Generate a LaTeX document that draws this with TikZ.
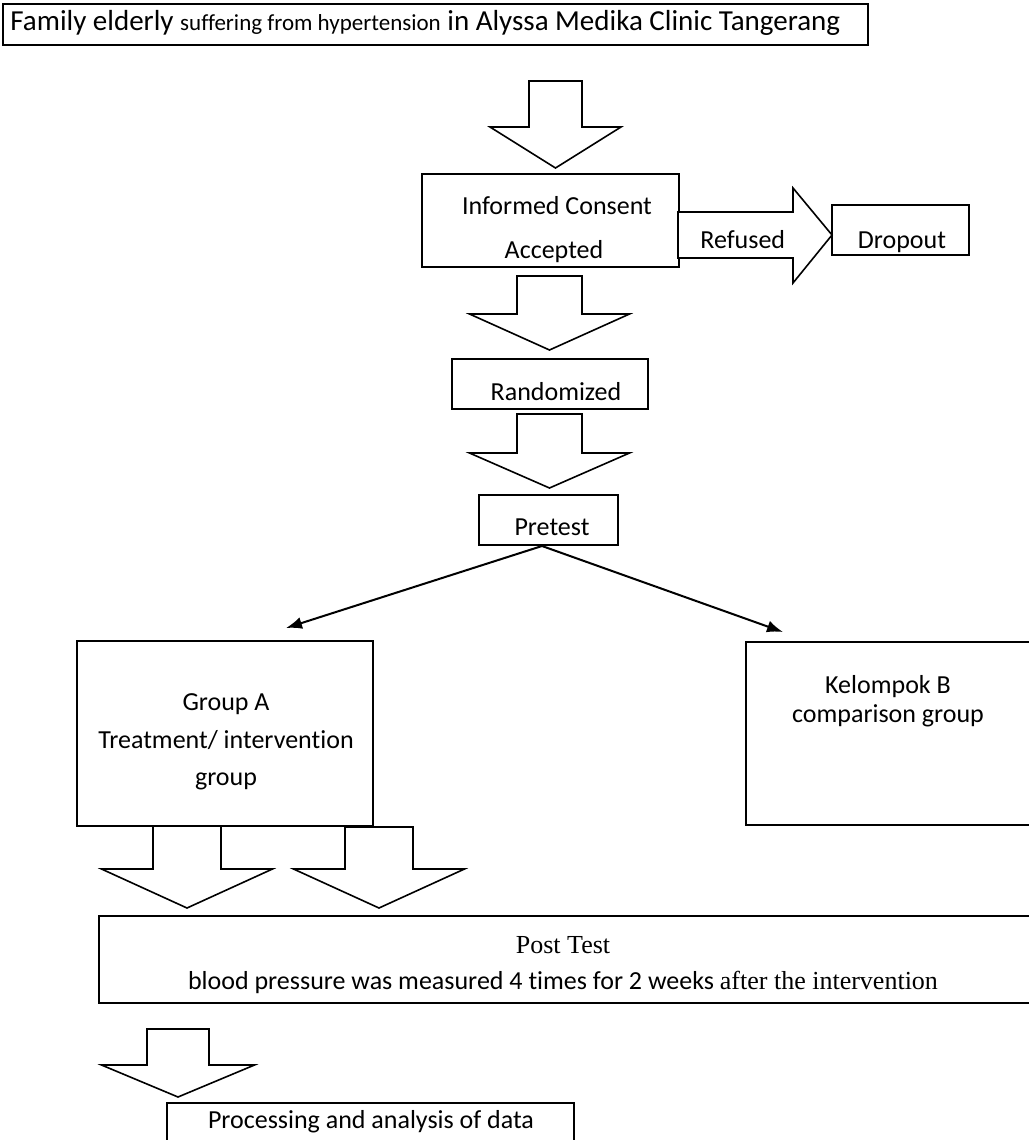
\documentclass[tikz,border=0pt]{standalone}
\usepackage{fontspec}
\setmainfont{Carlito}[Ligatures=CommonOff]
\newfontfamily\timesfont{Liberation Serif}
\usetikzlibrary{arrows.meta}

% hollow block arrow pointing down: x, top, shoulder, tip, half shaft, half head
\newcommand{\blkdown}[6]{%
  \draw[blkarrow] (#1-#5,#2) -- (#1+#5,#2) -- (#1+#5,#3) -- (#1+#6,#3)
    -- (#1,#4) -- (#1-#6,#3) -- (#1-#5,#3) -- cycle;}

\begin{document}
\begin{tikzpicture}[x=0.5pt,y=-0.5pt,
  box/.style={draw,line width=1pt},
  blkarrow/.style={draw,line width=0.8pt,fill=white,line join=miter},
  lbl/.style={inner sep=0pt,font=\fontsize{13}{15}\selectfont}]
  \useasboundingbox (0,0) rectangle (1028,1140);

  % title
  \draw[box] (3,4) rectangle (868,45);
  \node[lbl,anchor=base west,font=\fontsize{14.5}{16}\selectfont] (title) at (10,30) {Family elderly {\fontsize{11.5}{14}\selectfont suffering from hypertension} in Alyssa Medika Clinic Tangerang};
  \blkdown{555.5}{81}{127}{168}{26.5}{65.5}

  % consent
  \draw[box] (422,174) rectangle (679,267);
  \node[lbl,anchor=base] (consent) at (557,214) {Informed Consent};
  \node[lbl,anchor=base] (accepted) at (554,258) {Accepted};
  \draw[blkarrow] (678,212) -- (793,212) -- (793,188) -- (832,235)
    -- (793,283) -- (793,258) -- (678,258) -- cycle;
  \node[lbl,anchor=base west] (refused) at (700,248) {Refused};
  \draw[box] (832,205) rectangle (969,255);
  \node[lbl,anchor=base] (dropout) at (902,248) {Dropout};
  \blkdown{549.5}{276}{314}{350}{32.5}{80}

  % randomized and pretest
  \draw[box] (452,359) rectangle (648,409);
  \node[lbl,anchor=base] (random) at (556,400) {Randomized};
  \blkdown{549.5}{414}{453}{488}{32.5}{80}
  \draw[box] (479,495) rectangle (618,545);
  \node[lbl,anchor=base] (pretest) at (552,535) {Pretest};

  \coordinate (split) at (542,546);
  \coordinate (toA) at (286,628);
  \coordinate (toB) at (783,632);
  \draw[line width=1pt,-{Latex[length=8pt,width=6pt]}] (split) -- (toA);
  \draw[line width=1pt,-{Latex[length=8pt,width=6pt]}] (split) -- (toB);

  % groups
  \draw[box] (77,641) rectangle (373,826);
  \node[lbl,anchor=base] (grpA1) at (226,710) {Group A};
  \node[lbl,anchor=base] (grpA2) at (226,748) {Treatment/ intervention};
  \node[lbl,anchor=base] (grpA3) at (226,785) {group};
  \draw[box] (746,642) rectangle (1030,825);
  \node[lbl,anchor=base] (grpB1) at (888,693) {Kelompok B};
  \node[lbl,anchor=base] (grpB2) at (888,722) {comparison group};
  \blkdown{187}{826}{869}{908}{34}{85.5}
  \blkdown{379}{827}{869}{908}{34}{85.5}

  % post test
  \draw[box] (99,916) rectangle (1032,1003);
  \node[lbl,anchor=base,font=\timesfont\fontsize{13}{15}\selectfont] (post) at (563,953) {Post Test};
  \node[lbl,anchor=base] (bp) at (563,989) {blood pressure was measured 4 times for 2 weeks {\timesfont after the intervention}};
  \blkdown{178}{1029}{1065}{1097}{31}{76.5}

  % analysis
  \draw[box] (167,1103) rectangle (574,1150);
  \node[lbl,anchor=base] (analysis) at (371,1128) {Processing and analysis of data};
\end{tikzpicture}
\end{document}
